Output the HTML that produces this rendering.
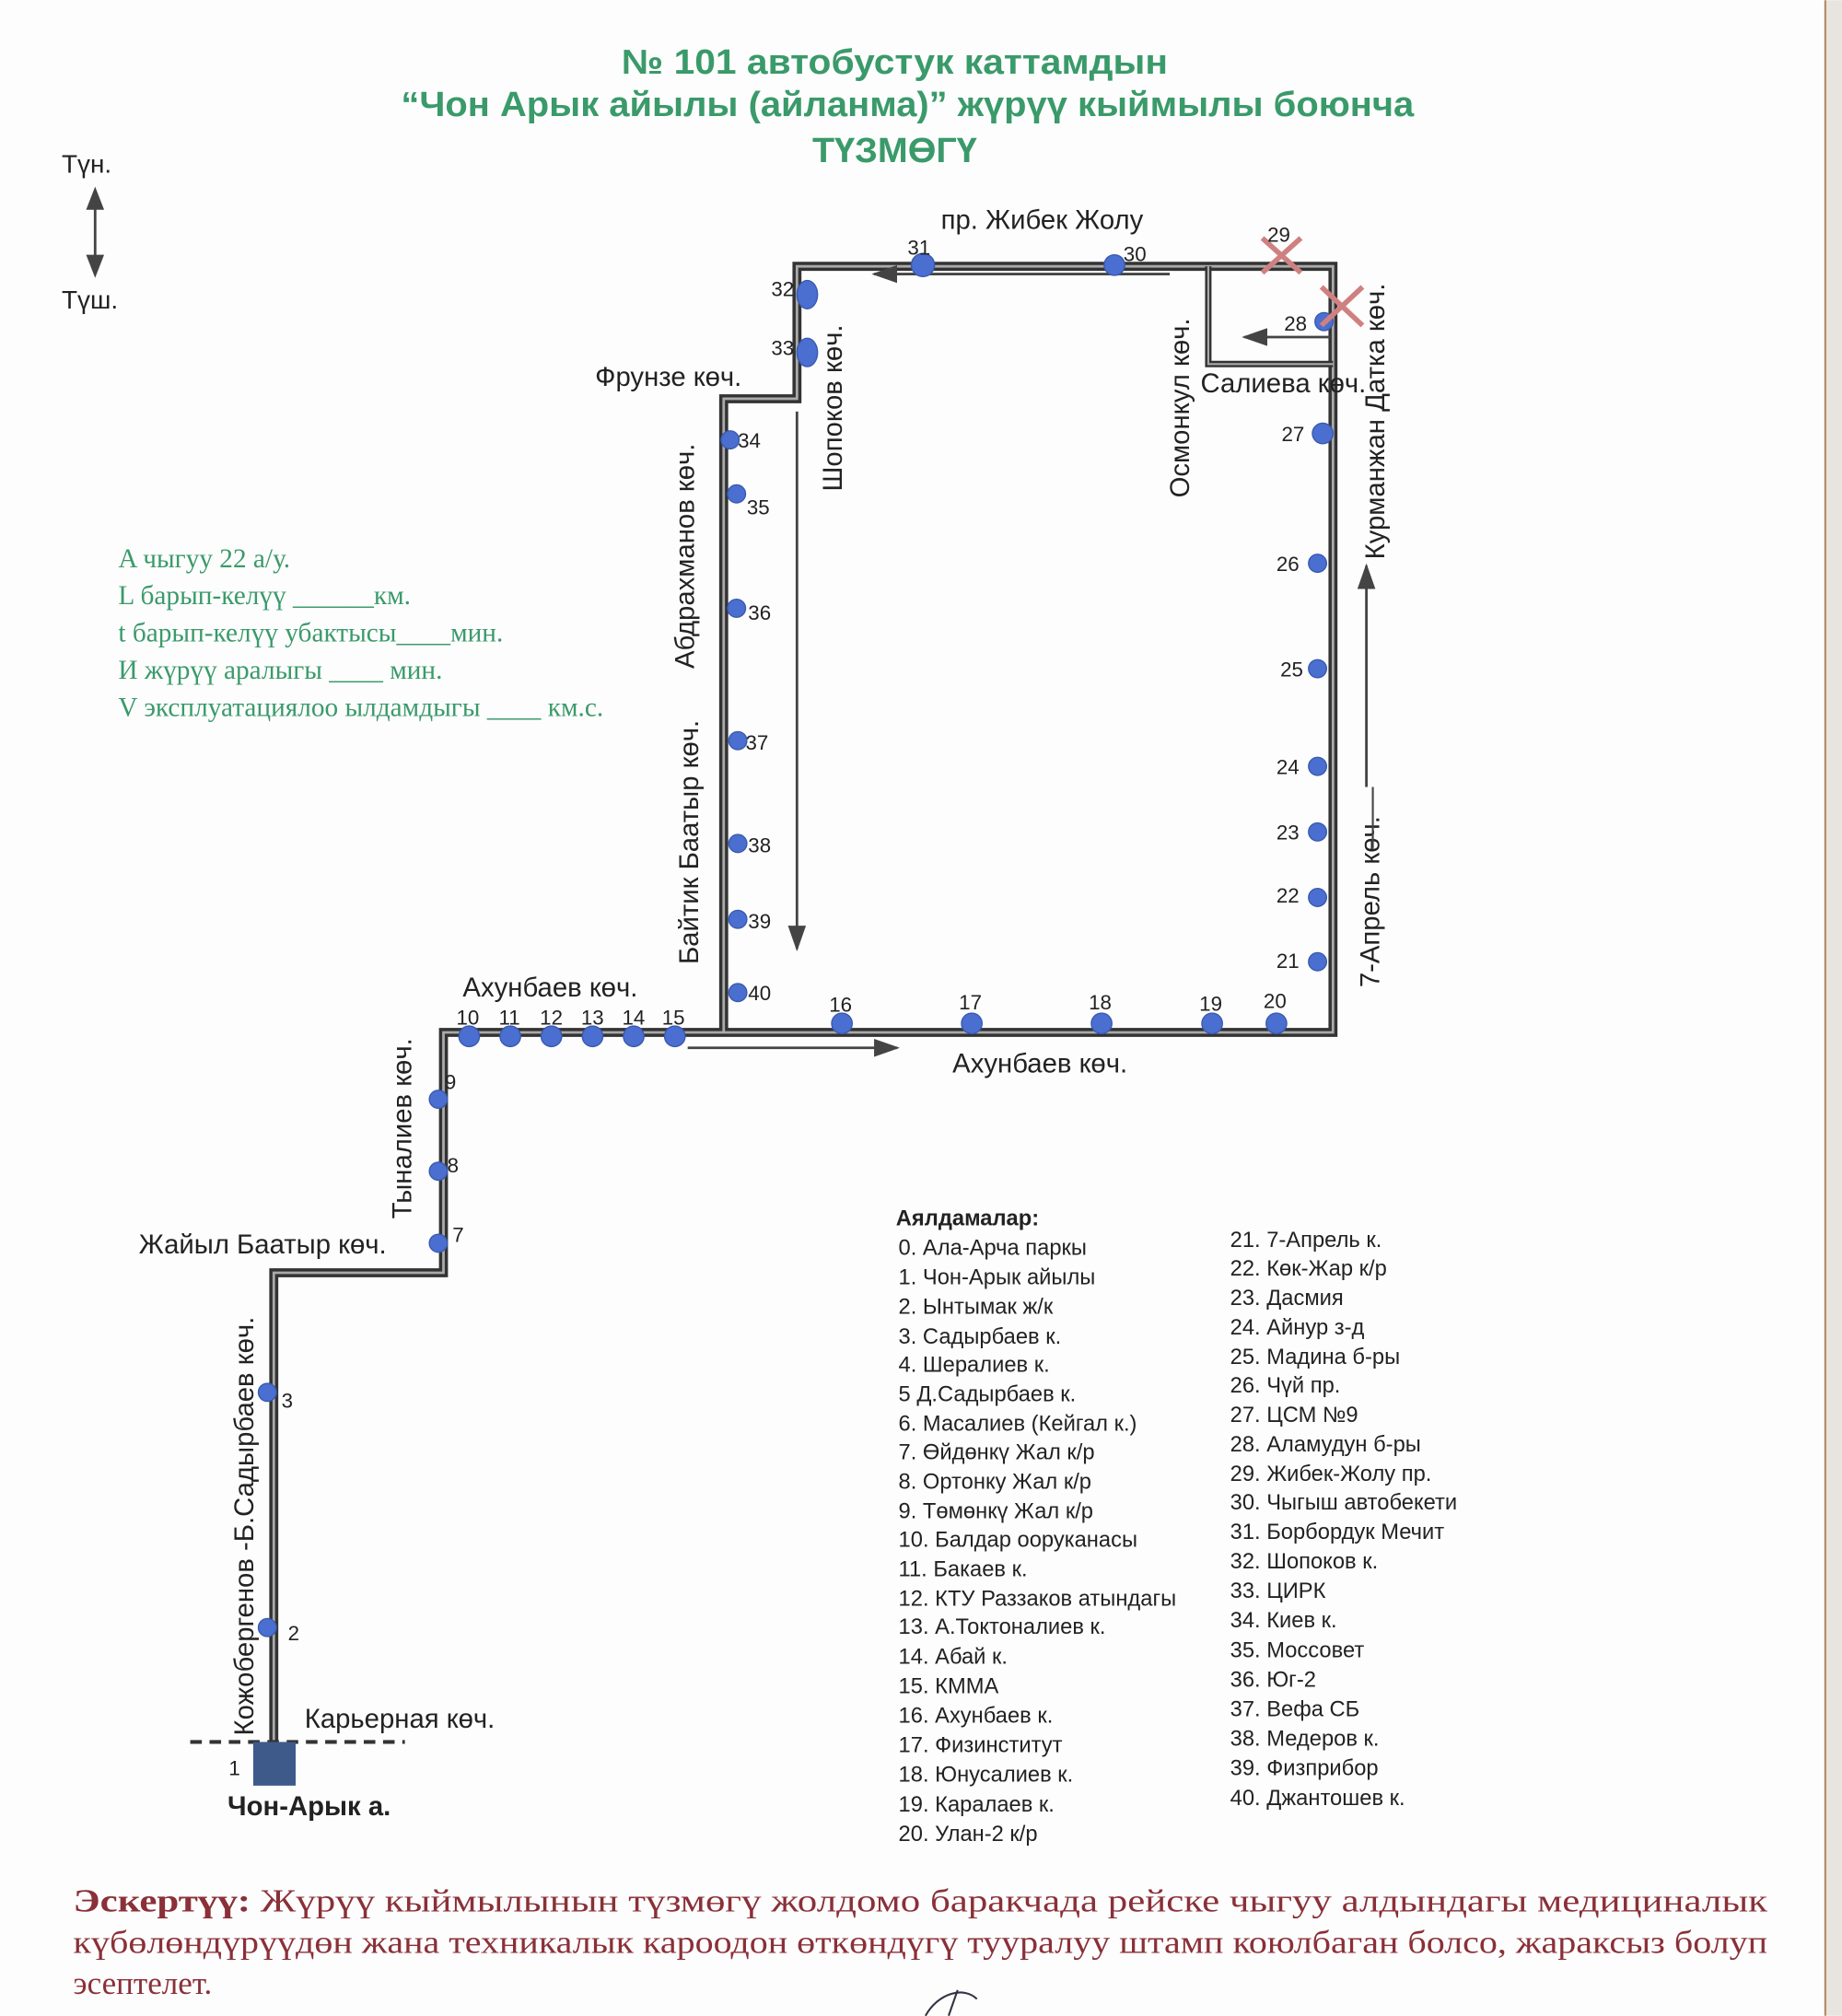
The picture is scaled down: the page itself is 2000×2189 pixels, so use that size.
<!DOCTYPE html>
<html><head><meta charset="utf-8"><style>
html,body{margin:0;padding:0;background:#fff}
svg{display:block}
.s{font-family:"Liberation Sans",sans-serif;fill:#222}
.st{font-family:"Liberation Sans",sans-serif;font-size:16px;fill:#222}
.lg{font-family:"Liberation Sans",sans-serif;font-size:17px;fill:#222}
.gr{font-family:"Liberation Serif",serif;font-size:21px;fill:#3a9a6a;white-space:pre}
.nt{font-family:"Liberation Serif",serif;font-size:25px;fill:#8a3038}
</style></head><body>
<svg width="2000" height="2189" viewBox="0 0 1433 1568" xmlns="http://www.w3.org/2000/svg">
<defs><marker id="b" markerWidth="20" markerHeight="14" refX="18" refY="7" orient="auto" markerUnits="userSpaceOnUse"><path d="M0,0 L20,7 L0,14 z" fill="#444"/></marker></defs>
<rect width="1433" height="1568" fill="#fdfdfd"/>
<rect x="1420" y="0" width="13" height="1568" fill="#e8e4e0"/>
<line x1="1420" y1="0" x2="1420" y2="1568" stroke="#b08860" stroke-width="1.5"/>
<g font-family="Liberation Sans,sans-serif" font-weight="bold" fill="#3a9a6a" font-size="27" text-anchor="middle">
<text x="696" y="57" textLength="425" lengthAdjust="spacingAndGlyphs">№ 101  автобустук каттамдын</text>
<text x="706" y="90" textLength="788" lengthAdjust="spacingAndGlyphs">“Чон Арык айылы (айланма)” жүрүү кыймылы боюнча</text>
<text x="696" y="126" textLength="128" lengthAdjust="spacingAndGlyphs">ТҮЗМӨГҮ</text></g>
<text x="48" y="134" class="s" font-size="20">Түн.</text>
<text x="48" y="240" class="s" font-size="20">Түш.</text>
<line x1="74" y1="148" x2="74" y2="212" stroke="#444" stroke-width="2"/>
<path d="M67,163 L74,145 L81,163z M67,198 L74,216 L81,198z" fill="#444"/>
<g class="gr"><text x="92" y="441">A чыгуу   22   а/у.</text>
<text x="92" y="470">L барып-келүү  ______км.</text>
<text x="92" y="499">t барып-келүү убактысы____мин.</text>
<text x="92" y="528">И жүрүү аралыгы ____      мин.</text>
<text x="92" y="557">V эксплуатациялоо ылдамдыгы ____ км.с.</text></g>
<g fill="none">
<path d="M213,1360 V990 H345 V803 H1037 V207 H620 V310 H563 V803" stroke="#333" stroke-width="7"/>
<path d="M213,1360 V990 H345 V803 H1037 V207 H620 V310 H563 V803" stroke="#aaa" stroke-width="2"/>
<path d="M940,207 V283 H1037" stroke="#333" stroke-width="5"/>
<path d="M940,207 V283 H1037" stroke="#aaa" stroke-width="1.5"/>
</g>
<g stroke="#444" stroke-width="2">
<line x1="910" y1="213" x2="680" y2="213" marker-end="url(#b)"/>
<line x1="620" y1="320" x2="620" y2="738" marker-end="url(#b)"/>
<line x1="535" y1="815" x2="698" y2="815" marker-end="url(#b)"/>
<line x1="1063" y1="612" x2="1063" y2="440" marker-end="url(#b)"/>
<line x1="1035" y1="262" x2="968" y2="262" marker-end="url(#b)"/>
</g>
<line x1="148" y1="1355" x2="315" y2="1355" stroke="#333" stroke-width="3" stroke-dasharray="9,6"/>
<rect x="197" y="1355" width="33" height="34" fill="#3d5a8a"/>
<g fill="#4a6fd0" stroke="#3a5ab0" stroke-width="1">
<circle cx="208" cy="1266" r="7"/><circle cx="208" cy="1083" r="7"/>
<circle cx="341" cy="967" r="7"/><circle cx="341" cy="911" r="7"/><circle cx="341" cy="855" r="7"/>
<circle cx="365" cy="806" r="8"/><circle cx="397" cy="806" r="8"/><circle cx="429" cy="806" r="8"/><circle cx="461" cy="806" r="8"/><circle cx="493" cy="806" r="8"/><circle cx="525" cy="806" r="8"/>
<circle cx="655" cy="796" r="8"/><circle cx="756" cy="796" r="8"/><circle cx="857" cy="796" r="8"/><circle cx="943" cy="796" r="8"/><circle cx="993" cy="796" r="8"/>
<circle cx="1025" cy="748" r="7"/><circle cx="1025" cy="698" r="7"/><circle cx="1025" cy="647" r="7"/><circle cx="1025" cy="596" r="7"/><circle cx="1025" cy="520" r="7"/><circle cx="1025" cy="438" r="7"/><circle cx="1029" cy="337" r="8"/><circle cx="1030" cy="250" r="7"/>
<circle cx="867" cy="206" r="8"/><circle cx="718" cy="206" r="9"/>
<ellipse cx="628" cy="229" rx="8" ry="11"/><ellipse cx="628" cy="274" rx="8" ry="11"/>
<circle cx="568" cy="342" r="7"/><circle cx="573" cy="384" r="7"/><circle cx="573" cy="473" r="7"/><circle cx="574" cy="576" r="7"/><circle cx="574" cy="656" r="7"/><circle cx="574" cy="715" r="7"/><circle cx="574" cy="772" r="7"/>
</g>
<g stroke="#d08080" stroke-width="4"><path d="M982,185 L1012,212 M1012,185 L982,212"/><path d="M1028,223 L1060,253 M1060,223 L1028,253"/></g>
<g class="st">
<text x="178" y="1381">1</text><text x="224" y="1276">2</text><text x="219" y="1095">3</text>
<text x="352" y="966">7</text><text x="348" y="912">8</text><text x="346" y="847">9</text>
<text x="355" y="797">10</text><text x="388" y="797">11</text><text x="420" y="797">12</text><text x="452" y="797">13</text><text x="484" y="797">14</text><text x="515" y="797">15</text>
<text x="645" y="787">16</text><text x="746" y="785">17</text><text x="847" y="785">18</text><text x="933" y="786">19</text><text x="983" y="784">20</text>
<text x="993" y="753">21</text><text x="993" y="702">22</text><text x="993" y="653">23</text><text x="993" y="602">24</text><text x="996" y="526">25</text><text x="993" y="444">26</text><text x="997" y="343">27</text><text x="999" y="257">28</text>
<text x="986" y="188">29</text><text x="874" y="203">30</text><text x="706" y="198">31</text><text x="600" y="230">32</text><text x="600" y="276">33</text>
<text x="574" y="348">34</text><text x="581" y="400">35</text><text x="582" y="482">36</text><text x="580" y="583">37</text><text x="582" y="663">38</text><text x="582" y="722">39</text><text x="582" y="778">40</text>
</g>
<g class="s" font-size="21">
<text x="732" y="178">пр. Жибек Жолу</text>
<text x="463" y="300">Фрунзе көч.</text>
<text x="934" y="305">Салиева көч.</text>
<text x="360" y="775">Ахунбаев көч.</text>
<text x="741" y="834">Ахунбаев көч.</text>
<text x="108" y="975">Жайыл Баатыр көч.</text>
<text x="237" y="1344">Карьерная көч.</text>
<text x="177" y="1412" font-weight="bold">Чон-Арык а.</text>
<text transform="translate(655,382) rotate(-90)">Шопоков көч.</text>
<text transform="translate(925,387) rotate(-90)">Осмонкул көч.</text>
<text transform="translate(540,520) rotate(-90)">Абдрахманов көч.</text>
<text transform="translate(543,750) rotate(-90)">Байтик Баатыр көч.</text>
<text transform="translate(1077,435) rotate(-90)">Курманжан Датка көч.</text>
<text transform="translate(1073,768) rotate(-90)">7-Апрель көч.</text>
<text transform="translate(320,948) rotate(-90)">Тыналиев көч.</text>
<text transform="translate(197,1350) rotate(-90)">Кожобергенов -Б.Садырбаев көч.</text>
</g>
<line x1="1068" y1="612" x2="1068" y2="660" stroke="#444" stroke-width="1.5"/>
<g class="lg">
<text x="697" y="953" font-weight="bold">Аялдамалар:</text>
<text x="699" y="976">0. Ала-Арча паркы</text>
<text x="699" y="999">1. Чон-Арык айылы</text>
<text x="699" y="1022">2. Ынтымак ж/к</text>
<text x="699" y="1045">3. Садырбаев к.</text>
<text x="699" y="1067">4. Шералиев к.</text>
<text x="699" y="1090">5 Д.Садырбаев к.</text>
<text x="699" y="1113">6. Масалиев (Кейгал к.)</text>
<text x="699" y="1135">7. Өйдөнкү Жал к/р</text>
<text x="699" y="1158">8. Ортонку Жал к/р</text>
<text x="699" y="1181">9. Төмөнкү Жал к/р</text>
<text x="699" y="1203">10. Балдар ооруканасы</text>
<text x="699" y="1226">11. Бакаев к.</text>
<text x="699" y="1249">12. КТУ Раззаков атындагы</text>
<text x="699" y="1271">13. А.Токтоналиев к.</text>
<text x="699" y="1294">14. Абай к.</text>
<text x="699" y="1317">15. КММА</text>
<text x="699" y="1340">16. Ахунбаев к.</text>
<text x="699" y="1363">17. Физинститут</text>
<text x="699" y="1386">18. Юнусалиев к.</text>
<text x="699" y="1409">19. Каралаев к.</text>
<text x="699" y="1432">20. Улан-2 к/р</text>
<text x="957" y="970">21. 7-Апрель к.</text>
<text x="957" y="992">22. Көк-Жар к/р</text>
<text x="957" y="1015">23. Дасмия</text>
<text x="957" y="1038">24. Айнур з-д</text>
<text x="957" y="1061">25. Мадина б-ры</text>
<text x="957" y="1083">26. Чүй пр.</text>
<text x="957" y="1106">27. ЦСМ №9</text>
<text x="957" y="1129">28. Аламудун б-ры</text>
<text x="957" y="1152">29. Жибек-Жолу пр.</text>
<text x="957" y="1174">30. Чыгыш автобекети</text>
<text x="957" y="1197">31. Борбордук Мечит</text>
<text x="957" y="1220">32. Шопоков к.</text>
<text x="957" y="1243">33. ЦИРК</text>
<text x="957" y="1266">34. Киев к.</text>
<text x="957" y="1289">35. Моссовет</text>
<text x="957" y="1312">36. Юг-2</text>
<text x="957" y="1335">37. Вефа СБ</text>
<text x="957" y="1358">38. Медеров к.</text>
<text x="957" y="1381">39. Физприбор</text>
<text x="957" y="1404">40. Джантошев к.</text>
</g>
<g class="nt">
<text x="57" y="1487" textLength="1318" lengthAdjust="spacingAndGlyphs"><tspan font-weight="bold">Эскертүү:</tspan>   Жүрүү   кыймылынын   түзмөгү   жолдомо   баракчада   рейске   чыгуу   алдындагы   медициналык</text>
<text x="57" y="1519" textLength="1318" lengthAdjust="spacingAndGlyphs">күбөлөндүрүүдөн  жана  техникалык  кароодон  өткөндүгү  тууралуу  штамп  коюлбаган  болсо,  жараксыз  болуп</text>
<text x="57" y="1551" textLength="108" lengthAdjust="spacingAndGlyphs">эсептелет.</text>
</g>
<path d="M720,1568 C730,1550 750,1545 760,1555 M745,1548 L738,1568" stroke="#334" stroke-width="1.5" fill="none"/>
</svg>
</body></html>
